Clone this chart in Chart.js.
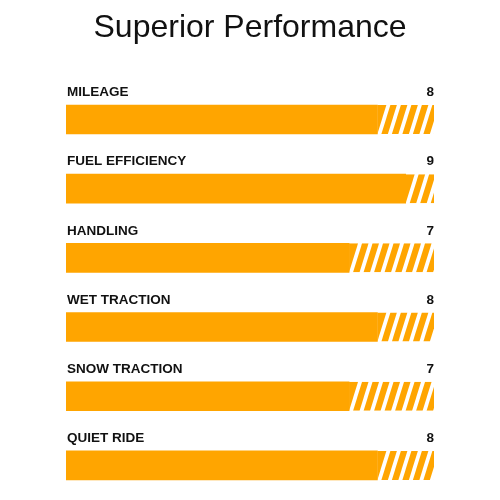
<!DOCTYPE html>
<html>
<head>
<meta charset="utf-8">
<title>Superior Performance</title>
<script src="https://cdn.jsdelivr.net/npm/chart.js@4"></script>
<style>
  html, body { margin: 0; padding: 0; background: #fff; }
  #wrap { width: 500px; height: 500px; }
</style>
</head>
<body>
<div id="wrap"><canvas id="perfChart"></canvas></div>
<script>
const categories = ['MILEAGE', 'FUEL EFFICIENCY', 'HANDLING', 'WET TRACTION', 'SNOW TRACTION', 'QUIET RIDE'];
const scores = [8, 9, 7, 8, 7, 8];
const maxScore = 10;
const axisStart = -3; // the picture's bars don't start at a true zero

const barColor = '#FFA500';
const textColor = '#111111';

// slanted end + stripes for the rest of each bar, plus label/score text
const stripePlugin = {
    id: 'stripes',
    afterDatasetsDraw(chart) {
        const ctx = chart.ctx;
        const right = chart.scales.x.getPixelForValue(maxScore);
        const meta = chart.getDatasetMeta(0);
        const slant = 9, gap = 4, stripe = 6.5;

        meta.data.forEach((bar, i) => {
            const top = bar.y - bar.height / 2;
            const bottom = bar.y + bar.height / 2;

            ctx.save();
            ctx.beginPath();
            ctx.rect(bar.base, top, right - bar.base, bar.height);
            ctx.clip();
            ctx.fillStyle = barColor;
            ctx.beginPath();
            ctx.moveTo(bar.x, bottom);
            ctx.lineTo(bar.x + slant, top);
            ctx.lineTo(bar.x, top);
            ctx.closePath();
            ctx.fill();
            for (let x0 = bar.x + gap; x0 < right; x0 += gap + stripe) {
                ctx.beginPath();
                ctx.moveTo(x0, bottom);
                ctx.lineTo(x0 + stripe, bottom);
                ctx.lineTo(x0 + stripe + slant, top);
                ctx.lineTo(x0 + slant, top);
                ctx.closePath();
                ctx.fill();
            }
            ctx.restore();

            ctx.save();
            ctx.fillStyle = textColor;
            ctx.font = 'bold 13.5px "Liberation Sans", Arial, sans-serif';
            ctx.textBaseline = 'middle';
            const ty = top - 12.5;
            ctx.textAlign = 'left';
            ctx.fillText(categories[i], bar.base + 1, ty);
            ctx.textAlign = 'right';
            ctx.fillText(String(scores[i]), right, ty);
            ctx.restore();
        });
    }
};

new Chart(document.getElementById('perfChart'), {
    type: 'bar',
    data: {
        labels: categories,
        datasets: [{
            data: scores,
            base: axisStart,
            backgroundColor: barColor,
            borderWidth: 0,
            barThickness: 29
        }]
    },
    options: {
        indexAxis: 'y',
        responsive: true,
        maintainAspectRatio: false,
        animation: false,
        layout: {
            padding: { left: 66, right: 66, top: 0, bottom: 0 }
        },
        scales: {
            x: { display: false, min: axisStart, max: maxScore },
            y: { display: false }
        },
        plugins: {
            legend: { display: false },
            tooltip: { enabled: false },
            title: {
                display: true,
                text: 'Superior Performance',
                color: textColor,
                font: { family: '"Liberation Sans", Arial, sans-serif', size: 32, weight: 'normal' },
                padding: { top: 8.5, bottom: 38 }
            }
        }
    },
    plugins: [stripePlugin]
});
</script>
</body>
</html>
